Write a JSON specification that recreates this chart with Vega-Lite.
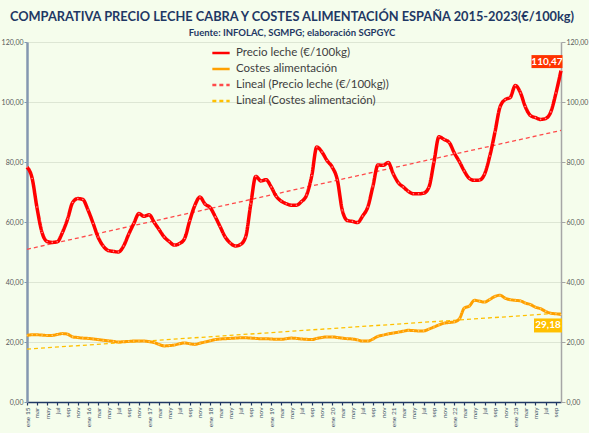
{
  "$schema": "https://vega.github.io/schema/vega-lite/v6.json",
  "width": 534,
  "height": 360,
  "autosize": "none",
  "padding": {"left": 27, "top": 42, "right": 28, "bottom": 31},
  "background": "#f5fdec",
  "config": {
    "font": "Lato",
    "view": {"stroke": null}
  },
  "title": {
    "text": "COMPARATIVA PRECIO LECHE CABRA Y COSTES ALIMENTACIÓN ESPAÑA 2015-2023(€/100kg)",
    "subtitle": "Fuente: INFOLAC, SGMPG; elaboración SGPGYC",
    "anchor": "middle",
    "frame": "group",
    "dx": -2,
    "dy": 3,
    "font": "Lato",
    "fontSize": 12.8,
    "fontWeight": "bold",
    "color": "#1f3864",
    "subtitleFont": "Lato",
    "subtitleFontSize": 9.5,
    "subtitleFontWeight": "bold",
    "subtitleColor": "#1f3864",
    "subtitlePadding": 4,
    "offset": 1
  },
  "data": {
    "format": {"parse": {"date": "date"}},
    "values": [
      {"date": "2015-01-01", "precio": 78.3, "costes": 22.2},
      {"date": "2015-02-01", "precio": 74.5, "costes": 22.4},
      {"date": "2015-03-01", "precio": 65, "costes": 22.4},
      {"date": "2015-04-01", "precio": 56.5, "costes": 22.3},
      {"date": "2015-05-01", "precio": 53.5, "costes": 22.2},
      {"date": "2015-06-01", "precio": 53.2, "costes": 22.2},
      {"date": "2015-07-01", "precio": 53.4, "costes": 22.5},
      {"date": "2015-08-01", "precio": 56.5, "costes": 22.8},
      {"date": "2015-09-01", "precio": 61, "costes": 22.6},
      {"date": "2015-10-01", "precio": 66.5, "costes": 21.7},
      {"date": "2015-11-01", "precio": 67.8, "costes": 21.5},
      {"date": "2015-12-01", "precio": 67.5, "costes": 21.3},
      {"date": "2016-01-01", "precio": 64, "costes": 21.2},
      {"date": "2016-02-01", "precio": 59.5, "costes": 21},
      {"date": "2016-03-01", "precio": 55, "costes": 20.8},
      {"date": "2016-04-01", "precio": 52, "costes": 20.6},
      {"date": "2016-05-01", "precio": 50.5, "costes": 20.4},
      {"date": "2016-06-01", "precio": 50.2, "costes": 20.2},
      {"date": "2016-07-01", "precio": 50, "costes": 20},
      {"date": "2016-08-01", "precio": 52, "costes": 20.1},
      {"date": "2016-09-01", "precio": 56, "costes": 20.2},
      {"date": "2016-10-01", "precio": 59.5, "costes": 20.3},
      {"date": "2016-11-01", "precio": 62.8, "costes": 20.3},
      {"date": "2016-12-01", "precio": 61.9, "costes": 20.3},
      {"date": "2017-01-01", "precio": 62.4, "costes": 20.1},
      {"date": "2017-02-01", "precio": 59.8, "costes": 19.8},
      {"date": "2017-03-01", "precio": 57.5, "costes": 19.2},
      {"date": "2017-04-01", "precio": 55, "costes": 18.7},
      {"date": "2017-05-01", "precio": 53.5, "costes": 18.8},
      {"date": "2017-06-01", "precio": 52.3, "costes": 19},
      {"date": "2017-07-01", "precio": 52.8, "costes": 19.4},
      {"date": "2017-08-01", "precio": 54.5, "costes": 19.7},
      {"date": "2017-09-01", "precio": 60.5, "costes": 19.4},
      {"date": "2017-10-01", "precio": 65.5, "costes": 19.2},
      {"date": "2017-11-01", "precio": 68.3, "costes": 19.6},
      {"date": "2017-12-01", "precio": 66, "costes": 20},
      {"date": "2018-01-01", "precio": 64.8, "costes": 20.4},
      {"date": "2018-02-01", "precio": 61.7, "costes": 20.8},
      {"date": "2018-03-01", "precio": 58.5, "costes": 21},
      {"date": "2018-04-01", "precio": 55, "costes": 21.1},
      {"date": "2018-05-01", "precio": 53, "costes": 21.2},
      {"date": "2018-06-01", "precio": 52, "costes": 21.3},
      {"date": "2018-07-01", "precio": 52.5, "costes": 21.4},
      {"date": "2018-08-01", "precio": 55, "costes": 21.4},
      {"date": "2018-09-01", "precio": 66, "costes": 21.3},
      {"date": "2018-10-01", "precio": 75.2, "costes": 21.2},
      {"date": "2018-11-01", "precio": 73.7, "costes": 21.1},
      {"date": "2018-12-01", "precio": 74.1, "costes": 21.1},
      {"date": "2019-01-01", "precio": 71.7, "costes": 21},
      {"date": "2019-02-01", "precio": 68.5, "costes": 20.9},
      {"date": "2019-03-01", "precio": 67, "costes": 20.9},
      {"date": "2019-04-01", "precio": 66.1, "costes": 21.1},
      {"date": "2019-05-01", "precio": 65.6, "costes": 21.3},
      {"date": "2019-06-01", "precio": 65.6, "costes": 21.2},
      {"date": "2019-07-01", "precio": 66.8, "costes": 21},
      {"date": "2019-08-01", "precio": 69, "costes": 20.9},
      {"date": "2019-09-01", "precio": 75.5, "costes": 20.8},
      {"date": "2019-10-01", "precio": 85, "costes": 21.2},
      {"date": "2019-11-01", "precio": 83.3, "costes": 21.5},
      {"date": "2019-12-01", "precio": 80.5, "costes": 21.7},
      {"date": "2020-01-01", "precio": 78.3, "costes": 21.7},
      {"date": "2020-02-01", "precio": 74, "costes": 21.5},
      {"date": "2020-03-01", "precio": 64, "costes": 21.3},
      {"date": "2020-04-01", "precio": 60.5, "costes": 21.1},
      {"date": "2020-05-01", "precio": 60.2, "costes": 21},
      {"date": "2020-06-01", "precio": 59.8, "costes": 20.7},
      {"date": "2020-07-01", "precio": 62, "costes": 20.3},
      {"date": "2020-08-01", "precio": 65, "costes": 20.3},
      {"date": "2020-09-01", "precio": 72, "costes": 21},
      {"date": "2020-10-01", "precio": 79, "costes": 21.9},
      {"date": "2020-11-01", "precio": 78.9, "costes": 22.3},
      {"date": "2020-12-01", "precio": 79.8, "costes": 22.7},
      {"date": "2021-01-01", "precio": 76, "costes": 23},
      {"date": "2021-02-01", "precio": 73, "costes": 23.3},
      {"date": "2021-03-01", "precio": 71.7, "costes": 23.6},
      {"date": "2021-04-01", "precio": 70.2, "costes": 23.9},
      {"date": "2021-05-01", "precio": 69.4, "costes": 23.8},
      {"date": "2021-06-01", "precio": 69.4, "costes": 23.7},
      {"date": "2021-07-01", "precio": 69.6, "costes": 23.7},
      {"date": "2021-08-01", "precio": 71.5, "costes": 24.3},
      {"date": "2021-09-01", "precio": 80, "costes": 25},
      {"date": "2021-10-01", "precio": 88.4, "costes": 25.7},
      {"date": "2021-11-01", "precio": 87.5, "costes": 26.3},
      {"date": "2021-12-01", "precio": 86.5, "costes": 26.5},
      {"date": "2022-01-01", "precio": 83, "costes": 26.7},
      {"date": "2022-02-01", "precio": 80, "costes": 27.8},
      {"date": "2022-03-01", "precio": 77, "costes": 31.3},
      {"date": "2022-04-01", "precio": 74.5, "costes": 32},
      {"date": "2022-05-01", "precio": 73.9, "costes": 33.9},
      {"date": "2022-06-01", "precio": 74, "costes": 33.6},
      {"date": "2022-07-01", "precio": 76, "costes": 33.3},
      {"date": "2022-08-01", "precio": 82, "costes": 34.2},
      {"date": "2022-09-01", "precio": 90, "costes": 35.2},
      {"date": "2022-10-01", "precio": 98.3, "costes": 35.6},
      {"date": "2022-11-01", "precio": 100.8, "costes": 34.6},
      {"date": "2022-12-01", "precio": 101.5, "costes": 34.1},
      {"date": "2023-01-01", "precio": 105.5, "costes": 33.9},
      {"date": "2023-02-01", "precio": 103, "costes": 33.7},
      {"date": "2023-03-01", "precio": 98.5, "costes": 33},
      {"date": "2023-04-01", "precio": 95.5, "costes": 32.5},
      {"date": "2023-05-01", "precio": 94.8, "costes": 31.6},
      {"date": "2023-06-01", "precio": 94.2, "costes": 31.1},
      {"date": "2023-07-01", "precio": 94.5, "costes": 30.2},
      {"date": "2023-08-01", "precio": 96.7, "costes": 29.6},
      {"date": "2023-09-01", "precio": 103, "costes": 29.4},
      {"date": "2023-10-01", "precio": 110.47, "costes": 29.18}
    ]
  },
  "encoding": {
    "x": {
      "field": "date",
      "type": "temporal",
      "scale": {"nice": false},
      "axis": {
        "title": null,
        "grid": false,
        "tickCount": {"interval": "month", "step": 2},
        "labelExpr": "substring('enefebmarabrmayjunjulagosepoctnovdic', utcmonth(datum.value) * 3, utcmonth(datum.value) * 3 + 3) + (utcmonth(datum.value) == 0 ? ' ' + utcFormat(datum.value, '%y') : '')",
        "labelAngle": 270,
        "labelFontSize": 6.5,
        "labelColor": "#44546a",
        "labelPadding": 2,
        "labelOverlap": false,
        "labelFlush": false,
        "domainColor": "#203864",
        "domainWidth": 1.5,
        "tickColor": "#203864",
        "tickSize": 3,
        "tickWidth": 1.2
      }
    }
  },
  "layer": [
    {
      "encoding": {
        "y": {
          "field": "precio",
          "type": "quantitative",
          "scale": {"domain": [0, 120], "nice": false, "zero": true},
          "axis": {
            "orient": "left",
            "title": null,
            "values": [0, 20, 40, 60, 80, 100, 120],
            "labelExpr": "replace(format(datum.value, '.2f'), '.', ',')",
            "labelFontSize": 7,
            "labelColor": "#595959",
            "labelPadding": 1,
            "domainColor": "#8497b0",
            "domainWidth": 2.5,
            "tickColor": "#8497b0",
            "tickSize": 3,
            "grid": true,
            "gridColor": "#dde6d4",
            "gridWidth": 1.2
          }
        }
      },
      "layer": [
        {
          "mark": {"type": "line", "strokeWidth": 1.3},
          "transform": [{"regression": "precio", "on": "date"}],
          "encoding": {
            "color": {"datum": "Lineal (Precio leche (€/100kg))"},
            "strokeDash": {"datum": "Lineal (Precio leche (€/100kg))"}
          }
        },
        {
          "mark": {"type": "line", "strokeWidth": 3.5, "interpolate": "monotone"},
          "encoding": {
            "color": {
              "datum": "Precio leche (€/100kg)",
              "scale": {
                "domain": ["Precio leche (€/100kg)", "Costes alimentación", "Lineal (Precio leche (€/100kg))", "Lineal (Costes alimentación)"],
                "range": ["#ff0000", "#ffa000", "#ff4a4a", "#ffc000"]
              },
              "legend": {
                "orient": "none",
                "legendX": 184,
                "legendY": 1,
                "title": null,
                "labelFontSize": 11.5,
                "labelColor": "#404040",
                "symbolType": "stroke",
                "symbolSize": 300,
                "rowPadding": 0,
                "labelOffset": 5,
                "symbolStrokeWidth": 2.5
              }
            },
            "strokeDash": {
              "datum": "Precio leche (€/100kg)",
              "scale": {
                "domain": ["Precio leche (€/100kg)", "Costes alimentación", "Lineal (Precio leche (€/100kg))", "Lineal (Costes alimentación)"],
                "range": [[1, 0], [1, 0], [4, 3], [4, 3]]
              },
              "legend": {
                "orient": "none",
                "legendX": 184,
                "legendY": 1,
                "title": null,
                "labelFontSize": 11.5,
                "labelColor": "#404040",
                "symbolType": "stroke",
                "symbolSize": 300,
                "rowPadding": 0,
                "labelOffset": 5,
                "symbolStrokeWidth": 2.5
              }
            }
          }
        },
        {
          "mark": {"type": "point", "filled": true, "size": 2.5, "color": "#ff9a9a", "opacity": 0.9}
        },
        {
          "transform": [{"filter": "utcyear(datum.date) == 2023 && utcmonth(datum.date) == 9"}],
          "mark": {"type": "point", "shape": "stroke", "size": 961, "filled": false, "strokeWidth": 13, "strokeCap": "butt", "color": "#ff3300", "opacity": 1, "xOffset": -14, "yOffset": -9}
        },
        {
          "transform": [
            {"filter": "utcyear(datum.date) == 2023 && utcmonth(datum.date) == 9"},
            {"calculate": "replace(format(datum.precio, '.2f'), '.', ',')", "as": "etiqueta"}
          ],
          "mark": {"type": "text", "color": "#ffffff", "fontWeight": "bold", "fontSize": 10, "xOffset": -14, "yOffset": -9},
          "encoding": {"text": {"field": "etiqueta", "type": "nominal"}}
        }
      ]
    },
    {
      "encoding": {
        "y": {
          "field": "costes",
          "type": "quantitative",
          "scale": {"domain": [0, 120], "nice": false, "zero": true},
          "axis": {
            "orient": "right",
            "title": null,
            "values": [0, 20, 40, 60, 80, 100, 120],
            "labelExpr": "replace(format(datum.value, '.2f'), '.', ',')",
            "labelFontSize": 7,
            "labelColor": "#595959",
            "labelPadding": 1,
            "domainColor": "#a6a6a6",
            "domainWidth": 1.5,
            "tickColor": "#a6a6a6",
            "tickSize": 4,
            "grid": false
          }
        }
      },
      "layer": [
        {
          "mark": {"type": "line", "strokeWidth": 1.3},
          "transform": [{"regression": "costes", "on": "date"}],
          "encoding": {
            "color": {"datum": "Lineal (Costes alimentación)"},
            "strokeDash": {"datum": "Lineal (Costes alimentación)"}
          }
        },
        {
          "mark": {"type": "line", "strokeWidth": 3, "interpolate": "monotone"},
          "encoding": {
            "color": {"datum": "Costes alimentación"},
            "strokeDash": {"datum": "Costes alimentación"}
          }
        },
        {
          "mark": {"type": "point", "filled": true, "size": 2.5, "color": "#ffd27a", "opacity": 0.9}
        },
        {
          "transform": [{"filter": "utcyear(datum.date) == 2023 && utcmonth(datum.date) == 9"}],
          "mark": {"type": "point", "shape": "stroke", "size": 784, "filled": false, "strokeWidth": 14, "strokeCap": "butt", "color": "#ffc000", "opacity": 1, "xOffset": -13, "yOffset": 11}
        },
        {
          "transform": [
            {"filter": "utcyear(datum.date) == 2023 && utcmonth(datum.date) == 9"},
            {"calculate": "replace(format(datum.costes, '.2f'), '.', ',')", "as": "etiqueta"}
          ],
          "mark": {"type": "text", "color": "#ffffff", "fontWeight": "bold", "fontSize": 10, "xOffset": -13, "yOffset": 11},
          "encoding": {"text": {"field": "etiqueta", "type": "nominal"}}
        }
      ]
    }
  ],
  "resolve": {"scale": {"y": "independent"}}
}
